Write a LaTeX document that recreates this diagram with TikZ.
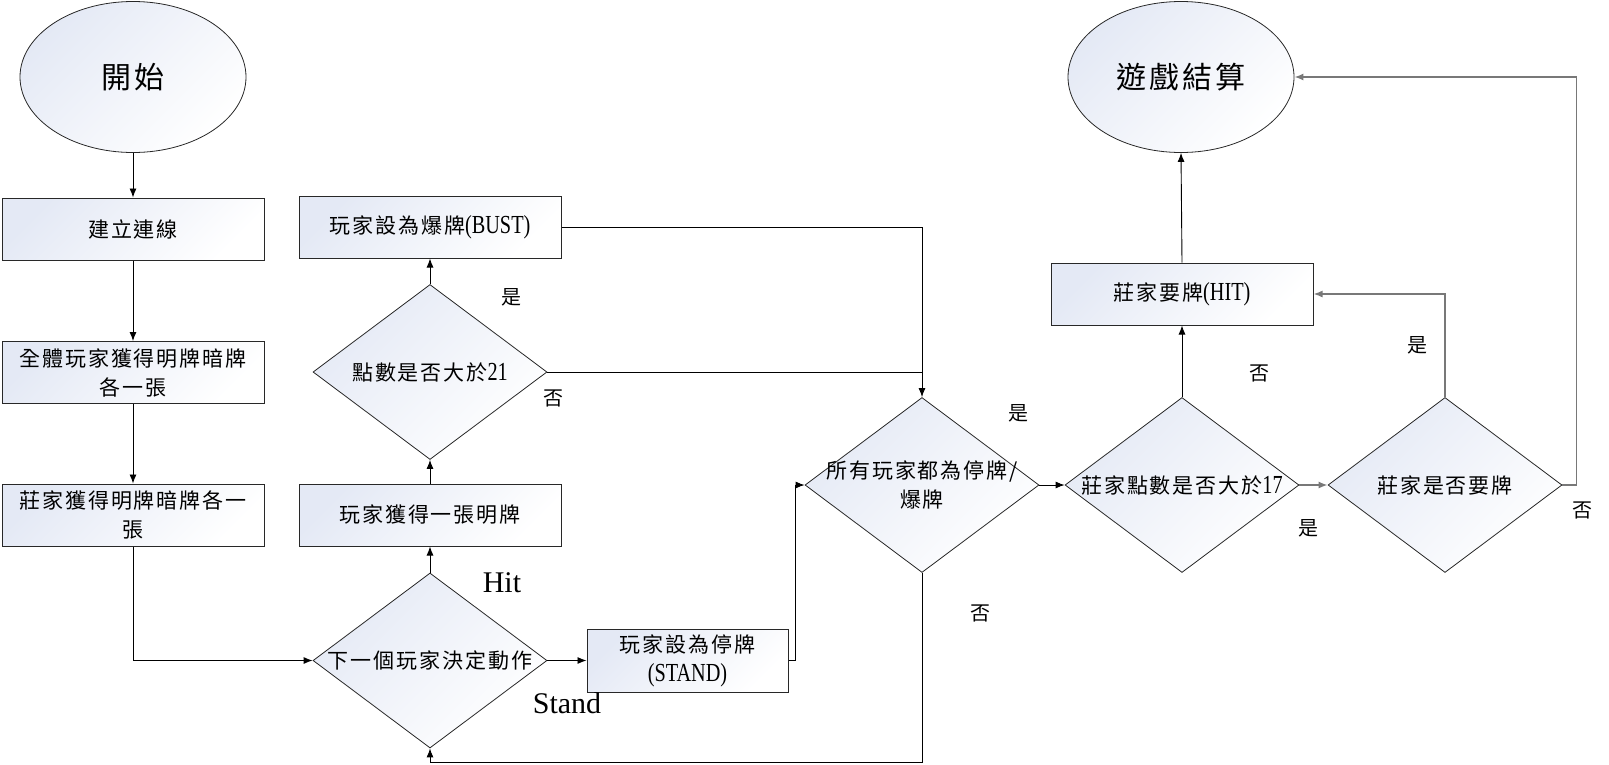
\documentclass[tikz,border=0pt]{standalone}
\usepackage{fontspec}
\setmainfont{Liberation Serif}
\newfontfamily\cjk{Noto Sans CJK TC}[LetterSpace=9]
\newfontfamily\narrowlat{Liberation Serif}[FakeStretch=0.78]
\newcommand{\lat}[1]{{\narrowlat\fontsize{26}{29}\selectfont #1}}
\usetikzlibrary{shapes.geometric,arrows.meta}
\definecolor{fillc}{RGB}{228,233,245}
\definecolor{linec}{RGB}{40,40,40}
\definecolor{grayline}{RGB}{120,120,120}
\begin{document}
\begin{tikzpicture}[x=1pt,y=-1pt,
  shadefill/.style={top color=fillc, bottom color=white, shading angle=45},
  flowbox/.style={draw=linec, line width=1pt, shadefill, minimum width=262pt,
    minimum height=62pt, inner sep=2pt, align=center,
    font=\fontsize{21}{29}\selectfont},
  termin/.style={ellipse, draw=linec, line width=0.8pt, shadefill,
    minimum width=226pt, minimum height=151pt, inner sep=0pt,
    font=\cjk\fontsize{30}{34}\selectfont},
  decision/.style={diamond, draw=linec, line width=0.8pt, shadefill,
    minimum width=234pt, minimum height=175pt, inner sep=0pt},
  dtext/.style={align=center, inner sep=0pt, font=\fontsize{21}{29}\selectfont},
  tag/.style={inner sep=0pt, font=\cjk\fontsize{20}{24}\selectfont},
  eng/.style={inner sep=0pt, font=\fontsize{30}{34}\selectfont},
  arr/.style={draw=black, line width=0.9pt, -{Latex[length=9pt,width=7pt]}},
  conn/.style={draw=black, line width=0.9pt},
  garr/.style={draw=grayline, line width=1.6pt, -{Latex[length=9pt,width=7pt]}}
]
\useasboundingbox (0,0) rectangle (1609,764);

% terminals
\node[termin] (start) at (133,77) {開始};
\node[termin] (endc) at (1181,77) {遊戲結算};

% left column: setup steps
\node[flowbox] (conn1) at (133,229) {{\cjk 建立連線}};
\node[flowbox] (deal) at (133,372.5) {{\cjk 全體玩家獲得明牌暗牌}\\{\cjk 各一張}};
\node[flowbox] (dealer) at (133,515) {{\cjk 莊家獲得明牌暗牌各一}\\{\cjk 張}};

% player turn
\node[decision] (next) at (430,660.5) {};
\node[dtext] (nextt) at (430,660.5) {{\cjk 下一個玩家決定動作}};
\node[flowbox] (getcard) at (430,515) {{\cjk 玩家獲得一張明牌}};
\node[decision] (pts) at (430,372) {};
\node[dtext] (ptst) at (430,372) {{\cjk 點數是否大於}\lat{21}};
\node[flowbox] (bust) at (430,227) {{\cjk 玩家設為爆牌}\lat{(BUST)}};
\node[flowbox, minimum width=201pt, minimum height=63pt] (stand) at (687.5,660.5)
  {{\cjk 玩家設為停牌}\\\lat{(STAND)}};

% dealer turn
\node[decision] (all) at (922,485) {};
\node[dtext] (allt) at (922,485) {{\cjk 所有玩家都為停牌/}\\{\cjk 爆牌}};
\node[decision] (d17) at (1182,485) {};
\node[dtext] (d17t) at (1182,485) {{\cjk 莊家點數是否大於}\lat{17}};
\node[decision] (ask) at (1445,485) {};
\node[dtext] (askt) at (1445,485) {{\cjk 莊家是否要牌}};
\node[flowbox] (hit) at (1182,294) {{\cjk 莊家要牌}\lat{(HIT)}};

% branch labels
\node[tag] (l1) at (511,297) {是};
\node[tag] (l2) at (553,398) {否};
\node[eng] (l3) at (502,583) {Hit};
\node[eng] (l4) at (567,703) {Stand};
\node[tag] (l5) at (1018,413) {是};
\node[tag] (l6) at (980,613) {否};
\node[tag] (l7) at (1259,373) {否};
\node[tag] (l8) at (1308,528) {是};
\node[tag] (l9) at (1417,345) {是};
\node[tag] (l10) at (1582,510) {否};

\coordinate (bottomrow) at (0,762);

% connectors
\draw[arr] (start) -- (conn1);
\draw[arr] (conn1) -- (deal);
\draw[arr] (deal) -- (dealer);
\draw[arr] (dealer.south) |- (next.west);
\draw[arr] (next.north) -- (getcard.south);
\draw[arr] (getcard.north) -- (pts.south);
\draw[arr] (pts.north) -- (bust.south);
\draw[arr] (bust.east) -| (all.north);
\draw[conn] (pts.east) -- (pts.east -| all.north);
\draw[arr] (next.east) -- (stand.west);
\draw[arr] (stand.east) -- ++(7,0) |- (all.west);
\draw[arr] (all.south) -- (all.south |- bottomrow) -| (next.south);
\draw[arr] (all.east) -- (d17.west);
\draw[arr] (d17.north) -- (hit.south);
\draw[arr] (hit.north) -- (endc.south);
\draw[garr] (d17.east) -- (ask.west);
\draw[garr] (ask.north) |- (hit.east);
\draw[garr] (ask.east) -- ++(14,0) |- (endc.east);
\end{tikzpicture}
\end{document}
